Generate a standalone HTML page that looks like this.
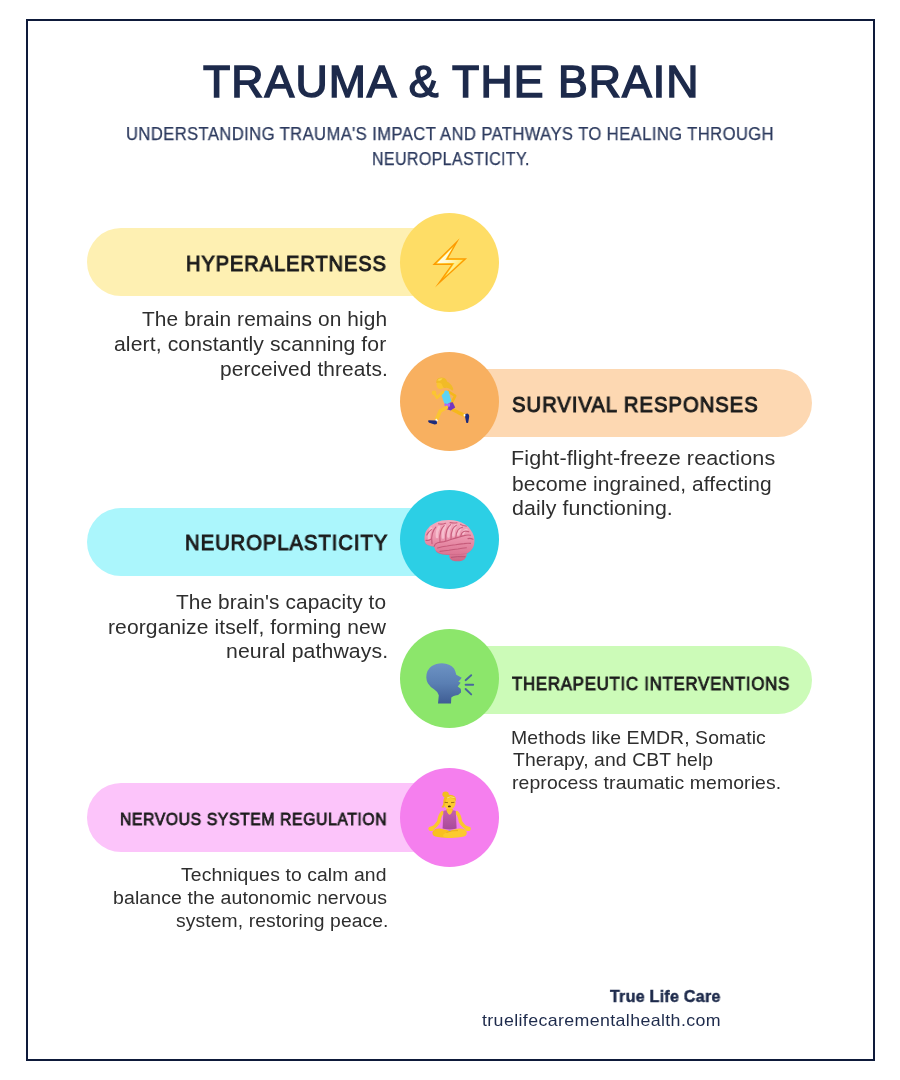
<!DOCTYPE html>
<html>
<head>
<meta charset="utf-8">
<style>
*{box-sizing:border-box;margin:0;padding:0}
html,body{width:900px;height:1080px;background:#fff;overflow:hidden}
body{position:relative;font-family:"Liberation Sans",sans-serif}
.frame{position:absolute;left:26px;top:19px;width:849px;height:1042px;border:2px solid #0e1a3a}
.t{position:absolute;white-space:nowrap;line-height:1;will-change:transform}
.pill{position:absolute;height:68.3px;border-radius:34.15px}
.circ{position:absolute;width:99px;height:99px;border-radius:50%;left:400px}
.ic{position:absolute;width:99px;height:99px;overflow:visible}
</style>
</head>
<body>
<div class="frame"></div>

<div class="pill" style="left:87px;width:380px;top:227.9px;background:#fef0b2"></div>
<div class="circ" style="top:213px;background:#fedd66"></div>

<div class="pill" style="left:440px;width:372px;top:368.6px;background:#fdd8b2"></div>
<div class="circ" style="top:352px;background:#f8b060"></div>

<div class="pill" style="left:87px;width:380px;top:507.5px;background:#abf6fc"></div>
<div class="circ" style="top:490.4px;background:#2ccfe5"></div>

<div class="pill" style="left:440px;width:372px;top:646.2px;background:#ccfbb8"></div>
<div class="circ" style="top:629.3px;background:#8ce66b"></div>

<div class="pill" style="left:87px;width:380px;top:783.4px;background:#fcc4fa"></div>
<div class="circ" style="top:768px;background:#f57fee"></div>

<svg class="ic" style="left:400px;top:213px" viewBox="0 0 99 99" width="99" height="99">
<defs><linearGradient id="bg1" x1="0" y1="0" x2="1" y2="0.7"><stop offset="0" stop-color="#ffffff"/><stop offset="0.5" stop-color="#fff8d0"/><stop offset="1" stop-color="#ffe250"/></linearGradient></defs>
<path d="M59.6,25.2 L32.4,52.1 L51.1,51.9 L35,74.6 L67.1,45.2 L48.3,45.2 Z" fill="#fd9a02"/>
<path d="M54.1,32.4 L35.5,50.8 L53.5,50.6 L42.8,65.8 L63.9,46.5 L46.2,46.5 Z" fill="#ffcf1c"/>
<path d="M52.6,34.6 L36.9,50.2 L54.6,50.1 L45.6,62.9 L62.6,47 L45.2,47 Z" fill="url(#bg1)"/>
</svg>
<svg class="ic" style="left:400px;top:352px" viewBox="0 0 99 99" width="99" height="99">
<g stroke-linecap="round" stroke-linejoin="round" fill="none">
<path d="M52.5,57.5 L58.4,60.6 L64.6,63.4" stroke="#f5b71c" stroke-width="3.4"/>
<path d="M48.5,39.6 L55.2,43.8 L51,52.2" stroke="#f5b71c" stroke-width="2.6"/>
</g>
<path d="M64.8,62.2 L67.4,61.6 Q69.6,62.5 69.2,64.8 L68.2,70.6 Q67.2,71.6 66.2,70.6 L65,64.5 Z" fill="#1d2b7c"/>
<path d="M63.8,61.8 L65.6,62.4 L65.2,64.6 L63.6,64.2 Z" fill="#ffffff"/>
<path d="M45.2,51.2 L52.8,50.2 L55.2,55.6 L50.6,58.6 L45,56.6 Z" fill="#7434c0"/>
<path d="M44.2,51.6 L50.2,51.2 L50,54.6 L45,55.2 Z" fill="#b366f2"/>
<g stroke-linecap="round" stroke-linejoin="round" fill="none">
<path d="M46.5,55.5 L40.4,58.8 L36.6,67.2" stroke="#fbc531" stroke-width="3.6"/>
</g>
<path d="M36.2,66.6 L37.9,68.2 L36.8,70.2 L34.9,68.6 Z" fill="#ffffff"/>
<path d="M28.4,68.2 L36.2,68.6 Q37.6,69.8 36.8,72 L34.6,72.6 L29.2,70.8 Q27.6,69.8 28.4,68.2 Z" fill="#1d2b7c"/>
<path d="M41.2,42.2 L45.8,38.2 L48.6,39.2 L51.4,49.4 L47.4,52 L44.2,51.2 Z" fill="#5cd4f6"/>
<g stroke-linecap="round" stroke-linejoin="round" fill="none">
<path d="M43,40 L37,45.8 L34.6,41.6" stroke="#fbc531" stroke-width="2.6"/>
</g>
<circle cx="34" cy="40.8" r="2.3" fill="#fbc531"/>
<ellipse cx="40.4" cy="32.6" rx="3.8" ry="4.4" fill="#fbc531"/>
<path d="M36.2,31 Q36,25.8 41.2,25.6 Q46.2,25.8 47,29.6 Q50.6,31 53.2,36.4 Q53.6,38.6 52,38.6 Q48.6,35.2 45.2,36 Q43.2,36.6 42.6,34 Q41.6,30.6 38.8,30.8 Z" fill="#f1bb27"/>
<path d="M37.2,28.6 Q39,26 42.6,26.4 Q41.4,27.8 40,28.8 Z" fill="#f9d24e"/>
</svg>
<svg class="ic" style="left:400px;top:490.4px" viewBox="0 0 99 99" width="99" height="99">
<defs>
<linearGradient id="bb" x1="0" y1="0" x2="0" y2="1"><stop offset="0" stop-color="#f4b2c5"/><stop offset="0.5" stop-color="#ec95ae"/><stop offset="1" stop-color="#d66a8a"/></linearGradient>
<linearGradient id="bc" x1="0" y1="0" x2="0" y2="1"><stop offset="0" stop-color="#df7f9b"/><stop offset="1" stop-color="#cd6584"/></linearGradient>
<clipPath id="bclip"><path d="M24.5,50 Q24.2,43.5 26.7,39.9 Q29,35.6 33.3,33.9 Q37.5,31 42,30.4 Q45,29.9 48.7,29.9 Q53,29.8 57.3,30.9 Q61.8,32.2 65.3,34.6 Q68.8,36.8 70.7,39.9 Q73.2,43 74,46.6 Q74.8,50 74.3,53.3 Q74,56 72.7,57.9 Q71.4,60.4 69.3,61.9 Q67.2,63.8 64,64.2 Q58,64.8 52,65 Q47.5,65.2 45.3,64.8 Q41.5,64.4 38.7,63.3 Q36.2,62 35.3,59.9 Q34.2,57.6 34,56.6 Q32.2,56.6 30.7,55.9 Q28,55.2 26,53.9 Q24.6,52.2 24.5,50 Z"/></clipPath>
</defs>
<path d="M49.3,64.5 Q48.4,70.5 55,71.2 Q62,71.8 64.8,69 Q67.4,66 66.7,63 L58,61.5 Z" fill="url(#bc)"/>
<path d="M51,67.4 Q57,66.2 65.6,66.8" fill="none" stroke="#b24d6d" stroke-width="0.8"/>
<g clip-path="url(#bclip)">
<rect x="20" y="25" width="60" height="45" fill="url(#bb)"/>
<g fill="none" stroke="#f9c8d6" stroke-width="2.6" stroke-linecap="round" opacity="0.75">
<path d="M37,47 Q36.5,41 39,37"/>
<path d="M43,47.5 Q42.5,41 45,36"/>
<path d="M48.4,46.5 Q48,40 50.5,35"/>
<path d="M53.4,45.5 Q53.2,39.5 55.5,35.5"/>
<path d="M58.2,44.5 Q58.5,40 61,37.5"/>
<path d="M63,43.5 Q64,40.5 66.5,40"/>
<path d="M29,48 Q28.5,43 31,38.5"/>
</g>
<g fill="none" stroke="#c35676" stroke-width="1.1" stroke-linecap="round" opacity="0.9">
<path d="M34,56.6 Q34.8,53.6 37.5,52.8 Q41,52 44,51.6 Q47.5,50.8 50.8,49.5 Q54.5,48.2 58,47.4 Q61.5,46.2 64,45.6 Q67,44.8 70.5,45.2"/>
<path d="M37.6,58 Q42,56.6 47.2,56 Q51.5,55.2 55.6,54.8 Q60,54 64,53.6 Q67.5,53 70.5,53.4"/>
<path d="M40,61.4 Q44.5,60.6 49,60.2 Q53.5,59.4 58,59 Q62,58.4 66.4,57.8"/>
<path d="M32,53.6 Q31,48 32.4,43.5 Q33.6,39.6 35.8,37.2"/>
<path d="M40,51.6 Q39.4,45.5 40.8,41 Q42,37.6 44.2,35.6"/>
<path d="M45.8,50.6 Q45.2,44.5 47,39.8 Q48.4,36.4 50.6,34.6"/>
<path d="M51,49.2 Q50.6,43.6 52.6,39.2 Q54,36.4 56.4,35.2"/>
<path d="M55.8,47.8 Q56,43 58,40 Q59.6,37.8 62.4,37.4"/>
<path d="M60.6,46.4 Q61.2,43 63.6,41.6 Q66,40.6 68.8,41.8"/>
<path d="M26.8,45 Q28.6,41.4 31.4,39.6"/>
<path d="M38.5,33.8 Q42,34.6 45.6,33.2"/>
<path d="M50,32.6 Q53.5,33.4 57,32.8"/>
<path d="M60.5,34.4 Q63.5,36.2 66.6,36"/>
<path d="M68,48.6 Q70.5,48 73,49.2"/>
<path d="M26,50.4 Q28.6,51 30.6,49.4"/>
</g>
<path d="M35,60 Q40,64.6 48,64.6 Q58,64.6 66,63.6 Q70,62.6 72.6,58.4 L76,66 L30,68 Z" fill="#b24c6c" opacity="0.35"/>
<path d="M24.5,52 Q27,56 34,56.6 L30,60 L22,56 Z" fill="#b24c6c" opacity="0.3"/>
</g>
</svg>
<svg class="ic" style="left:400px;top:629.3px" viewBox="0 0 99 99" width="99" height="99">
<defs>
<linearGradient id="hg" x1="0" y1="0" x2="0" y2="1"><stop offset="0" stop-color="#6d93c4"/><stop offset="0.5" stop-color="#5a7fb3"/><stop offset="1" stop-color="#3f5d94"/></linearGradient>
</defs>
<path d="M26.3,48.4 Q26.2,41 31.5,37.2 Q36,34.2 42,34.2 Q50,34.4 54,39.4 Q55.6,42 56.3,45.7 L61.7,48.8 L60,51 L58.3,52.4 L60.7,53.7 L57.7,57.4 L60.7,59.7 Q61.3,61.6 61,63.4 Q59,66 55.3,66.4 Q53,66.8 51.3,68.4 L51,74.4 L38,74.4 L38.8,66.2 Q37.6,62.4 34,60.2 Q30,57.8 28,54.5 Q26.4,51.6 26.3,48.4 Z" fill="url(#hg)"/>
<g stroke="#48679d" stroke-width="1.9" stroke-linecap="round">
<path d="M65.6,51.2 L71.2,46.2"/>
<path d="M65.6,55.7 L73.2,55.7"/>
<path d="M65.6,60 L71.2,65.4"/>
</g>
</svg>
<svg class="ic" style="left:400px;top:768px" viewBox="0 0 99 99" width="99" height="99">
<defs>
<linearGradient id="tk" x1="0" y1="0" x2="0" y2="1"><stop offset="0" stop-color="#c460ad"/><stop offset="1" stop-color="#a84a99"/></linearGradient>
</defs>
<g stroke="#fbc82c" stroke-linecap="round" stroke-linejoin="round" fill="none" stroke-width="3.4">
<path d="M42.4,44.6 Q39.6,47 38.8,53.6 Q36,58.6 31.2,60.6"/>
<path d="M56.8,44.6 Q59.6,47 60.4,53.6 Q63.2,58.6 68,60.6"/>
</g>
<path d="M46.4,41 L52.8,41 L53.6,44.8 L45.6,44.8 Z" fill="#f6bd22"/>
<path d="M43.4,43 Q45,42 46.6,42.2 Q48,46.4 49.6,46.4 Q51.2,46.4 52.6,42.2 Q54.2,42 55.8,43 L56.6,60.4 Q49.6,62.6 42.6,60.4 Z" fill="url(#tk)"/>
<path d="M46.6,42.2 Q48,46.4 49.6,46.4 Q51.2,46.4 52.6,42.2 Z" fill="#fbc82c"/>
<ellipse cx="49.6" cy="65.6" rx="4" ry="3" fill="#3da6e6"/>
<path d="M32.4,64.6 Q33.4,60.2 40,60.6 Q46,61.2 52.8,64.6 Q57,66.8 56,68.6 Q54,70.4 46,69.8 Q36,69.4 33.6,67.8 Q32.2,66.4 32.4,64.6 Z" fill="#f8c020"/>
<path d="M66.8,64.6 Q65.8,60.2 59.2,60.6 Q53,61.2 46.4,64.6 Q42.2,66.8 43.2,68.6 Q45.2,70.4 53.2,69.8 Q63.2,69.4 65.6,67.8 Q67,66.4 66.8,64.6 Z" fill="#fcca2e"/>
<path d="M46.4,64.6 Q52,62 58,62.6" fill="none" stroke="#e0a216" stroke-width="0.7"/>
<ellipse cx="31.2" cy="60.8" rx="2.8" ry="2.3" fill="#fcca2e"/>
<ellipse cx="68" cy="60.8" rx="2.8" ry="2.3" fill="#fcca2e"/>
<ellipse cx="49.6" cy="34.8" rx="6" ry="6.6" fill="#fccb30"/>
<path d="M43.4,35.4 Q42.6,27.4 49.4,26.8 Q56.6,26.6 56.2,33.4 Q54.4,30.4 50.6,30 Q47.8,29.8 46.6,31 Q45.6,35 44,39.4 Q41.8,39.8 41.4,39 Q42.8,37.6 43.4,35.4 Z" fill="#f2be1e"/>
<path d="M47,30 Q50,27.8 54.6,29.6" fill="none" stroke="#f9df7a" stroke-width="1"/>
<ellipse cx="45.6" cy="26.4" rx="3.2" ry="2.8" fill="#f2be1e"/>
<g stroke="#8a5a10" stroke-width="0.8" stroke-linecap="round">
<path d="M45,34.4 L47.6,34.6"/>
<path d="M51.4,34.6 L54,34.4"/>
</g>
<ellipse cx="49.4" cy="38.4" rx="1.5" ry="0.9" fill="#4a2a10"/>
</svg>


<div class="t" style="left:202.6px;top:60.45px;font-size:44.6px;font-weight:normal;letter-spacing:1.065px;color:#1d2a4b;-webkit-text-stroke:1.5px #1d2a4b;">TRAUMA &amp; THE BRAIN</div>
<div class="t" style="left:126.3px;top:125.89px;font-size:17.5px;font-weight:normal;letter-spacing:0.45px;color:#2c3a5e;-webkit-text-stroke:0.25px #2c3a5e;transform:scaleX(0.9471);transform-origin:0 0;">UNDERSTANDING TRAUMA'S IMPACT AND PATHWAYS TO HEALING THROUGH</div>
<div class="t" style="left:372px;top:150.99px;font-size:17.5px;font-weight:normal;letter-spacing:0.45px;color:#2c3a5e;-webkit-text-stroke:0.25px #2c3a5e;transform:scaleX(0.9118);transform-origin:0 0;">NEUROPLASTICITY.</div>
<div class="t" style="left:186.3px;top:253.45px;font-size:21.8px;font-weight:normal;letter-spacing:1.0px;color:#1c1c1c;-webkit-text-stroke:1.0px #1c1c1c;transform:scaleX(0.9199);transform-origin:0 0;">HYPERALERTNESS</div>
<div class="t" style="left:142.4px;top:308.85px;font-size:20.5px;font-weight:normal;letter-spacing:0.1px;color:#2e2e2e;transform:scaleX(1.0192);transform-origin:0 0;">The brain remains on high</div>
<div class="t" style="left:113.8px;top:334.35px;font-size:20.5px;font-weight:normal;letter-spacing:0.1px;color:#2e2e2e;transform:scaleX(1.0319);transform-origin:0 0;">alert, constantly scanning for</div>
<div class="t" style="left:219.9px;top:359.45px;font-size:20.5px;font-weight:normal;letter-spacing:0.1px;color:#2e2e2e;transform:scaleX(1.0191);transform-origin:0 0;">perceived threats.</div>
<div class="t" style="left:512.3px;top:394.26px;font-size:21.9px;font-weight:normal;letter-spacing:1.0px;color:#1c1c1c;-webkit-text-stroke:1.0px #1c1c1c;transform:scaleX(0.9278);transform-origin:0 0;">SURVIVAL RESPONSES</div>
<div class="t" style="left:510.9px;top:448.25px;font-size:20.5px;font-weight:normal;letter-spacing:0.1px;color:#2e2e2e;transform:scaleX(1.0518);transform-origin:0 0;">Fight-flight-freeze reactions</div>
<div class="t" style="left:511.9px;top:473.65px;font-size:20.5px;font-weight:normal;letter-spacing:0.1px;color:#2e2e2e;transform:scaleX(1.0218);transform-origin:0 0;">become ingrained, affecting</div>
<div class="t" style="left:511.9px;top:497.95px;font-size:20.5px;font-weight:normal;letter-spacing:0.1px;color:#2e2e2e;transform:scaleX(1.0414);transform-origin:0 0;">daily functioning.</div>
<div class="t" style="left:184.8px;top:532.03px;font-size:21.7px;font-weight:normal;letter-spacing:1.0px;color:#1c1c1c;-webkit-text-stroke:1.0px #1c1c1c;transform:scaleX(0.9344);transform-origin:0 0;">NEUROPLASTICITY</div>
<div class="t" style="left:176.3px;top:592.35px;font-size:20.5px;font-weight:normal;letter-spacing:0.1px;color:#2e2e2e;transform:scaleX(1.0165);transform-origin:0 0;">The brain's capacity to</div>
<div class="t" style="left:107.6px;top:617.05px;font-size:20.5px;font-weight:normal;letter-spacing:0.1px;color:#2e2e2e;transform:scaleX(1.0274);transform-origin:0 0;">reorganize itself, forming new</div>
<div class="t" style="left:225.5px;top:641.45px;font-size:20.5px;font-weight:normal;letter-spacing:0.1px;color:#2e2e2e;transform:scaleX(1.0357);transform-origin:0 0;">neural pathways.</div>
<div class="t" style="left:512.2px;top:674.52px;font-size:18.4px;font-weight:normal;letter-spacing:0.8px;color:#1c1c1c;-webkit-text-stroke:0.85px #1c1c1c;transform:scaleX(0.9152);transform-origin:0 0;">THERAPEUTIC INTERVENTIONS</div>
<div class="t" style="left:510.9px;top:728.56px;font-size:18.6px;font-weight:normal;letter-spacing:0.1px;color:#2e2e2e;transform:scaleX(1.043);transform-origin:0 0;">Methods like EMDR, Somatic</div>
<div class="t" style="left:512.9px;top:751.36px;font-size:18.6px;font-weight:normal;letter-spacing:0.1px;color:#2e2e2e;transform:scaleX(1.0391);transform-origin:0 0;">Therapy, and CBT help</div>
<div class="t" style="left:511.9px;top:774.46px;font-size:18.6px;font-weight:normal;letter-spacing:0.1px;color:#2e2e2e;transform:scaleX(1.0431);transform-origin:0 0;">reprocess traumatic memories.</div>
<div class="t" style="left:119.7px;top:811.42px;font-size:16.4px;font-weight:normal;letter-spacing:0.7px;color:#1c1c1c;-webkit-text-stroke:0.8px #1c1c1c;transform:scaleX(0.9543);transform-origin:0 0;">NERVOUS SYSTEM REGULATION</div>
<div class="t" style="left:181.4px;top:866.29px;font-size:18.8px;font-weight:normal;letter-spacing:0.1px;color:#2e2e2e;transform:scaleX(1.0303);transform-origin:0 0;">Techniques to calm and</div>
<div class="t" style="left:113px;top:888.89px;font-size:18.8px;font-weight:normal;letter-spacing:0.1px;color:#2e2e2e;transform:scaleX(1.0382);transform-origin:0 0;">balance the autonomic nervous</div>
<div class="t" style="left:175.5px;top:912.09px;font-size:18.8px;font-weight:normal;letter-spacing:0.1px;color:#2e2e2e;transform:scaleX(1.027);transform-origin:0 0;">system, restoring peace.</div>
<div class="t" style="left:610.2px;top:988.58px;font-size:16.8px;font-weight:bold;letter-spacing:0.3px;color:#1d2a4b;-webkit-text-stroke:0.5px #1d2a4b;transform:scaleX(0.9526);transform-origin:0 0;">True Life Care</div>
<div class="t" style="left:482px;top:1013.45px;font-size:16.6px;font-weight:normal;letter-spacing:0.35px;color:#1d2a4b;transform:scaleX(1.0721);transform-origin:0 0;">truelifecarementalhealth.com</div>

</body>
</html>
